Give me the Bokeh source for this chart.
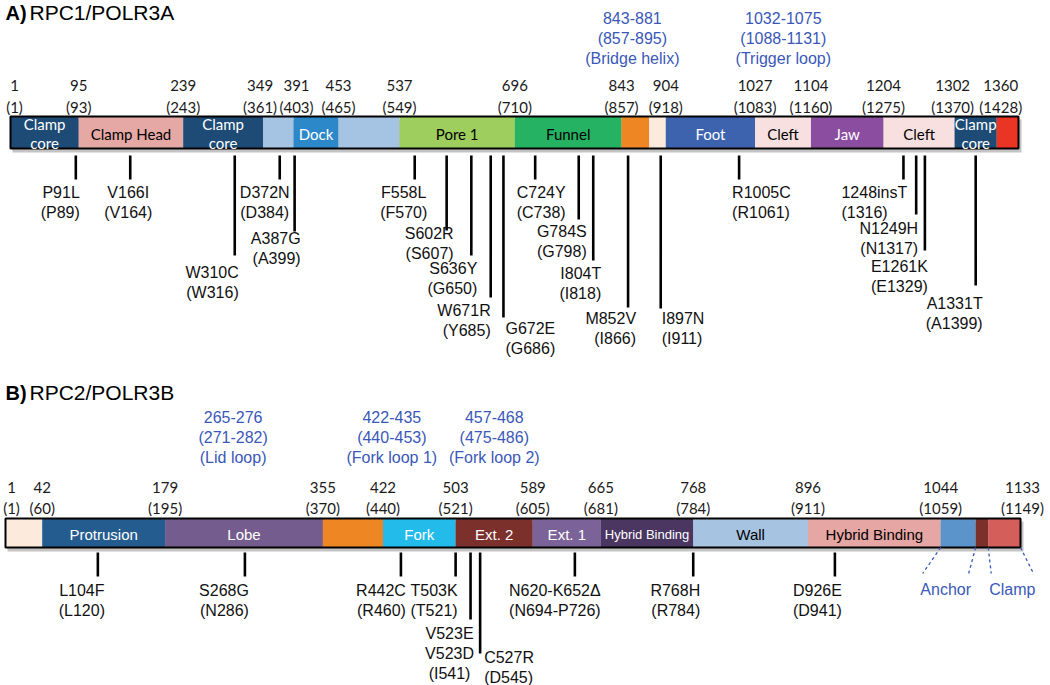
import numpy as np
from bokeh.plotting import figure
from bokeh.models import Range1d, ColumnDataSource
from bokeh.embed import file_html
from bokeh.resources import INLINE
from bokeh.core.properties import value

# ======================= DATA =======================
# Panel A: RPC1/POLR3A  (human numbering, yeast numbering in parentheses)
A_title = "RPC1/POLR3A"
A_bounds = [1, 95, 239, 349, 391, 453, 537, 696, 843, 881, 904, 1027, 1104, 1204, 1302, 1360, 1390]
A_domains = ["Clamp\ncore", "Clamp Head", "Clamp\ncore", "", "Dock", "", "Pore 1", "Funnel",
             "", "", "Foot", "Cleft", "Jaw", "Cleft", "Clamp\ncore", ""]
A_tick_res = [1, 95, 239, 349, 391, 453, 537, 696, 843, 904, 1027, 1104, 1204, 1302, 1360]
A_tick_alt = [1, 93, 243, 361, 403, 465, 549, 710, 857, 918, 1083, 1160, 1275, 1370, 1428]
A_mut_res = [91, 166, 310, 372, 387, 558, 602, 636, 671, 672, 724, 784, 804, 852, 897,
             1005, 1248, 1249, 1261, 1331]
A_mut_name = ["P91L", "V166I", "W310C", "D372N", "A387G", "F558L", "S602R", "S636Y", "W671R",
              "G672E", "C724Y", "G784S", "I804T", "M852V", "I897N", "R1005C", "1248insT",
              "N1249H", "E1261K", "A1331T"]
A_mut_alt = ["(P89)", "(V164)", "(W316)", "(D384)", "(A399)", "(F570)", "(S607)", "(G650)",
             "(Y685)", "(G686)", "(C738)", "(G798)", "(I818)", "(I866)", "(I911)", "(R1061)",
             "(1316)", "(N1317)", "(E1329)", "(A1399)"]
A_feat_start = [843, 1032]
A_feat_end = [881, 1075]
A_feat_alt = ["(857-895)", "(1088-1131)"]
A_feat_name = ["(Bridge helix)", "(Trigger loop)"]

# Panel B: RPC2/POLR3B
B_title = "RPC2/POLR3B"
B_bounds = [1, 42, 179, 355, 422, 503, 589, 665, 768, 896, 1044, 1083, 1097, 1133]
B_domains = ["", "Protrusion", "Lobe", "", "Fork", "Ext. 2", "Ext. 1", "Hybrid Binding",
             "Wall", "Hybrid Binding", "", "", ""]
B_tick_res = [1, 42, 179, 355, 422, 503, 589, 665, 768, 896, 1044, 1133]
B_tick_alt = [1, 60, 195, 370, 440, 521, 605, 681, 784, 911, 1059, 1149]
B_mut_from = [104, 268, 442, 503, 523, 527, 620, 768, 926]
B_mut_to = [104, 268, 442, 503, 523, 527, 652, 768, 926]
B_mut_name = ["L104F", "S268G", "R442C", "T503K", "V523E\nV523D", "C527R", "N620-K652\u0394",
              "R768H", "D926E"]
B_mut_alt = ["(L120)", "(N286)", "(R460)", "(T521)", "(I541)", "(D545)", "(N694-P726)",
             "(R784)", "(D941)"]
B_feat_start = [265, 422, 457]
B_feat_end = [276, 435, 468]
B_feat_alt = ["(271-282)", "(440-453)", "(475-486)"]
B_feat_name = ["(Lid loop)", "(Fork loop 1)", "(Fork loop 2)"]
B_sub_start = [1044, 1097]
B_sub_end = [1083, 1133]
B_sub_name = ["Anchor", "Clamp"]

# ======================= STYLE / LAYOUT =======================
W, H = 1050, 685
REF_X0, REF_X1 = 0, 1050
REF_Y0, REF_Y1 = 0, 685
SX = W / (REF_X1 - REF_X0)

SANS = value("Liberation Sans")
CAL = value("Lato")
BLUE = "#3a58b8"
INK = "#111111"

A_colors = ["#1d4b76", "#e5a8a4", "#1d4b76", "#a5c3e3", "#2c88c9", "#a5c3e3", "#9dce5e",
            "#26b263", "#ee8624", "#fcebdd", "#3e63ae", "#f8e0e1", "#8b4d9f", "#f8e0e1",
            "#1d4b76", "#ea3424"]
A_tcolors = ["white", "black", "white", "black", "white", "black", "black", "black",
             "black", "black", "white", "black", "white", "black", "white", "white"]
B_colors = ["#fcebdd", "#245c8f", "#745d8e", "#ee8624", "#22bbea", "#7b302c", "#7b6399",
            "#4a3661", "#a6c4e2", "#e6a6a4", "#5b94cb", "#7b302c", "#d45e5a"]
B_tcolors = ["black", "white", "white", "white", "white", "white", "white", "white",
             "black", "black", "white", "white", "white"]
B_tsize = ["15px"] * 7 + ["13px"] + ["15px"] * 5

# panel A geometry (reference pixel units)
A_px = (10, 1018)
A_bar = (116, 148)
A_stem_top = 155
A_stem_bot = [179, 179, 255, 179, 231, 179, 230, 255, 297, 317, 179, 219, 260, 307, 308,
              179, 179, 214, 250, 285]
A_lab_y = [192, 192, 272, 192, 238, 192, 233, 268, 310, 328, 192, 231, 273, 318, 318,
           192, 192, 228, 266, 303]
A_lab_align = ["right", "center", "right", "center", "right", "center", "right", "right",
               "right", "left", "center", "right", "right", "right", "left", "left", "left",
               "right", "right", "right"]
A_lab_dx = [4, -2, 4, -15, 6, -11, 7, 6, 0, 2, 6, 8, 8, 8, 1, -7, -62, 2, 3, 7]
A_stem_nudge = [0, 0, 0, 0, 4, 0, 0, 0, -6, 6, 0, 0, 0, 0, 0, 0, -12, 0, 0, 0]
A_tick_dx = [4, 0, 0, -3, 3, 0, 0, 0, 0, 0, 0, 0, 0, -2, 4]
A_tick_y = (85, 106)
A_feat_dx = [-3, 9]
A_feat_y = 17
A_title_y = 12

# panel B geometry
B_px = (5, 1020)
B_bar = (518, 547)
B_stem_top = 552
B_stem_bot = [576, 576, 576, 576, 619, 653, 576, 576, 576]
B_lab_y = [590, 590, 590, 590, 633, 657, 590, 590, 590]
B_lab_align = ["center", "right", "right", "right", "center", "left", "center", "right", "right"]
B_lab_dx = [-16, 4, 5, 2, -21, 4, -20, 7, 7]
B_stem_nudge = [0, 0, 0, 0, -3, 3, 0, 0, 0]
B_tick_dx = [6, 0, 0, 0, 0, 0, 0, 0, 0, 0, 0, 2]
B_tick_y = (487, 507)
B_feat_dx = [-14, 3, 75]
B_feat_y = 416
B_title_y = 392
B_sub_dx = [(-18, -7), (3, 13)]
B_sub_y = (547, 573, 589)


def scale_info(r0, r1, px0, px1):
    s0 = (px0 - REF_X0) * SX
    s1 = (px1 - REF_X0) * SX
    k = (s1 - s0) / (r1 - r0)
    start = r0 - s0 / k
    return start, start + W / k, k


a_start, a_end, kA = scale_info(A_bounds[0], A_bounds[-1], *A_px)
b_start, b_end, kB = scale_info(B_bounds[0], B_bounds[-1], *B_px)

p = figure(width=W, height=H, x_range=Range1d(a_start, a_end),
           y_range=Range1d(REF_Y1, REF_Y0), output_backend="svg", toolbar_location=None,
           x_axis_location=None, y_axis_location=None, min_border=0,
           outline_line_color=None, background_fill_color="white", border_fill_color="white")
p.extra_x_ranges = {"B": Range1d(b_start, b_end)}
p.grid.visible = False


def rkw(rng):
    return {} if rng is None else {"x_range_name": rng}


def mtext(xs, ys, texts, rng, font, size, colors, aligns, xoffs, lh, center=False,
          style="normal"):
    groups = {}
    n = len(texts)
    if not isinstance(colors, list):
        colors = [colors] * n
    if not isinstance(aligns, list):
        aligns = [aligns] * n
    if not isinstance(xoffs, list):
        xoffs = [xoffs] * n
    if not isinstance(size, list):
        size = [size] * n
    for x, y, t, c, a, o, s in zip(xs, ys, texts, colors, aligns, xoffs, size):
        lines = t.split("\n")
        y0 = y - (len(lines) - 1) * lh / 2 if center else y
        for i, line in enumerate(lines):
            if not line:
                continue
            d = groups.setdefault((a, s), dict(x=[], y=[], text=[], xo=[], c=[]))
            d["x"].append(x)
            d["y"].append(y0 + i * lh)
            d["text"].append(line)
            d["xo"].append(o * SX)
            d["c"].append(c)
    for (a, s), d in groups.items():
        p.text(x="x", y="y", text="text", x_offset="xo", text_color="c",
               source=ColumnDataSource(d), text_font=font, text_font_size=s,
               text_align=a, text_baseline="middle", text_font_style=style, **rkw(rng))


def panel(rng, k, start, bounds, colors, tcolors, tsizes, dom, dfont, bar, tick_res, tick_alt,
          tick_dx, tick_y, mut_x, mut_nudge, stem_top, stem_bot, mut_name, mut_alt, lab_y,
          lab_align, lab_dx, fs, fe, falt, fname, fdx, fy, title, title_letter, title_y):
    lefts = np.array(bounds[:-1], float)
    rights = np.array(bounds[1:], float)
    # shadow
    p.quad(left=[bounds[0] + 2 / k], right=[bounds[-1] + 3 / k], top=[bar[0] + 3],
           bottom=[bar[1] + 4], fill_color="#8a8a8a", fill_alpha=0.5, line_color=None,
           **rkw(rng))
    p.quad(left=lefts, right=rights, top=bar[0], bottom=bar[1], fill_color=colors,
           line_color=None, **rkw(rng))
    p.quad(left=[bounds[0]], right=[bounds[-1]], top=[bar[0]], bottom=[bar[1]],
           fill_color=None, line_color="black", line_width=2, **rkw(rng))
    mids = (lefts + rights) / 2
    mtext(mids, [(bar[0] + bar[1]) / 2 + 1] * len(mids), dom, rng, dfont, tsizes, tcolors,
          "center", 0, 19, center=True)
    # tick labels
    mtext(tick_res, [tick_y[0]] * len(tick_res), [str(v) for v in tick_res], rng, CAL,
          "15px", "#1a1a1a", "center", tick_dx, 0)
    mtext(tick_res, [tick_y[1]] * len(tick_res), ["(%d)" % v for v in tick_alt], rng, CAL,
          "15px", "#1a1a1a", "center", tick_dx, 0)
    # mutation stems
    sx = np.array(mut_x, float) + np.array(mut_nudge, float) / k
    p.segment(x0=sx, x1=sx, y0=[stem_top] * len(sx), y1=stem_bot, line_color="black",
              line_width=2.6, **rkw(rng))
    mtext(sx, lab_y, [n + "\n" + a for n, a in zip(mut_name, mut_alt)], rng, SANS, "16px",
          INK, lab_align, lab_dx, 20)
    # feature annotations
    fmid = [(a + b) / 2 for a, b in zip(fs, fe)]
    ftxt = ["%d-%d\n%s\n%s" % (a, b, c, d) for a, b, c, d in zip(fs, fe, falt, fname)]
    mtext(fmid, [fy] * len(fmid), ftxt, rng, SANS, "16px", BLUE, "center", fdx, 20.5)
    # title
    tx = start + (5 - REF_X0) * SX / k
    mtext([tx], [title_y], [title_letter], rng, SANS, "20px", "black", "left", 0, 0,
          style="bold")
    mtext([tx], [title_y], [title], rng, SANS, "21px", "black", "left", 24, 0)


panel(None, kA, a_start, A_bounds, A_colors, A_tcolors, "15px", A_domains, CAL, A_bar,
      A_tick_res, A_tick_alt, A_tick_dx, A_tick_y, A_mut_res, A_stem_nudge, A_stem_top,
      A_stem_bot, A_mut_name, A_mut_alt, A_lab_y, A_lab_align, A_lab_dx, A_feat_start,
      A_feat_end, A_feat_alt, A_feat_name, A_feat_dx, A_feat_y, A_title, "A)", A_title_y)

B_mut_mid = [(a + b) / 2 for a, b in zip(B_mut_from, B_mut_to)]
panel("B", kB, b_start, B_bounds, B_colors, B_tcolors, B_tsize, B_domains, SANS, B_bar,
      B_tick_res, B_tick_alt, B_tick_dx, B_tick_y, B_mut_mid, B_stem_nudge, B_stem_top,
      B_stem_bot, B_mut_name, B_mut_alt, B_lab_y, B_lab_align, B_lab_dx, B_feat_start,
      B_feat_end, B_feat_alt, B_feat_name, B_feat_dx, B_feat_y, B_title, "B)", B_title_y)

# Anchor / Clamp sub-domain call-outs (dashed)
for s, e, nm, (d0, d1) in zip(B_sub_start, B_sub_end, B_sub_name, B_sub_dx):
    xs0 = [s, e]
    xs1 = [s + d0 / kB, e + d1 / kB]
    p.segment(x0=xs0, x1=xs1, y0=[B_sub_y[0]] * 2, y1=[B_sub_y[1]] * 2, line_color=BLUE,
              line_width=1.3, line_dash="3 3", x_range_name="B")
    mtext([(xs1[0] + xs1[1]) / 2], [B_sub_y[2]], [nm], "B", SANS, "16px", BLUE, "center",
          0, 0)

open("out.html", "w").write(file_html(p, INLINE))
